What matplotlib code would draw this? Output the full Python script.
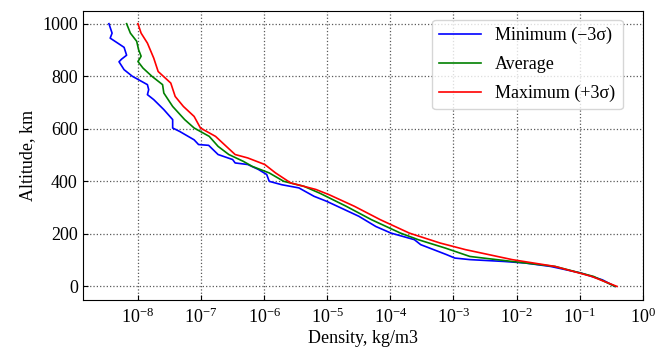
import numpy as np
import matplotlib
matplotlib.use("Agg")
import matplotlib.pyplot as plt

plt.rcParams['font.family'] = ['Liberation Serif', 'DejaVu Serif']
plt.rcParams['mathtext.fontset'] = 'stix'

# altitude (km) and log10 density (kg/m3)
alt_min = [1000, 964, 945, 926, 910, 880, 865, 855, 825, 800, 768, 749, 730, 711,
           673, 635, 603, 590, 558, 540, 537, 502, 483, 470, 464, 445, 426, 400,
           387, 375, 343, 324, 305, 267, 228, 203, 178, 159, 121, 108, 102, 95,
           89, 76, 51, 25, 0]
logrho_min = [-8.46, -8.41, -8.44, -8.32, -8.22, -8.18, -8.26, -8.30, -8.22, -8.09,
              -7.85, -7.83, -7.85, -7.75, -7.59, -7.45, -7.45, -7.34, -7.11, -7.04,
              -6.88, -6.73, -6.50, -6.46, -6.26, -6.09, -5.96, -5.92, -5.72, -5.45,
              -5.21, -5.01, -4.84, -4.50, -4.23, -3.99, -3.62, -3.52, -3.11, -2.98,
              -2.74, -2.20, -1.86, -1.46, -0.98, -0.64, -0.44]

alt_avg = [1000, 964, 933, 901, 876, 856, 831, 800, 768, 736, 685, 635, 603, 571,
           533, 502, 476, 457, 432, 400, 381, 355, 305, 254, 203, 178, 146, 114,
           95, 76, 38, 0]
logrho_avg = [-8.18, -8.12, -8.02, -7.99, -7.95, -8.00, -7.92, -7.78, -7.61, -7.59,
              -7.45, -7.26, -7.11, -6.87, -6.73, -6.56, -6.33, -6.19, -5.92, -5.69,
              -5.37, -5.12, -4.70, -4.30, -3.84, -3.56, -3.13, -2.74, -2.07, -1.39,
              -0.78, -0.44]

alt_max = [1000, 964, 926, 869, 818, 774, 723, 685, 647, 603, 571, 533, 502, 489,
           464, 432, 394, 369, 349, 305, 254, 203, 165, 140, 102, 76, 38, 0]
logrho_max = [-8.00, -7.95, -7.85, -7.75, -7.68, -7.48, -7.41, -7.28, -7.11, -7.01,
              -6.77, -6.60, -6.46, -6.26, -5.99, -5.82, -5.58, -5.18, -4.97, -4.57,
              -4.16, -3.70, -3.21, -2.81, -2.07, -1.39, -0.81, -0.41]

fig = plt.figure(figsize=(6.7, 3.52), dpi=100)
ax = fig.add_axes([0.1234, 0.149, 0.836, 0.821])

ax.plot(10 ** np.array(logrho_min), alt_min, color='blue', lw=1.2, label='Minimum (\u22123\u03c3)')
ax.plot(10 ** np.array(logrho_avg), alt_avg, color='green', lw=1.2, label='Average')
ax.plot(10 ** np.array(logrho_max), alt_max, color='red', lw=1.2, label='Maximum (+3\u03c3)')

ax.set_xscale('log')
ax.set_xlim(10 ** -8.876, 1)
ax.set_ylim(-50, 1050)
ax.set_yticks([0, 200, 400, 600, 800, 1000])
ax.xaxis.set_minor_locator(matplotlib.ticker.NullLocator())
ax.tick_params(direction='in', labelsize=13)
ax.tick_params(axis='x', pad=6)
ax.grid(True, linestyle=':', color='0.35', lw=0.9)
ax.set_xlabel('Density, kg/m3', fontsize=13, labelpad=2)
ax.set_ylabel('Altitude, km', fontsize=13)
ax.legend(loc='upper right', bbox_to_anchor=(0.98, 1.0), fontsize=13,
          handlelength=2.3, labelspacing=0.65)

fig.savefig('out.png', dpi=100)
